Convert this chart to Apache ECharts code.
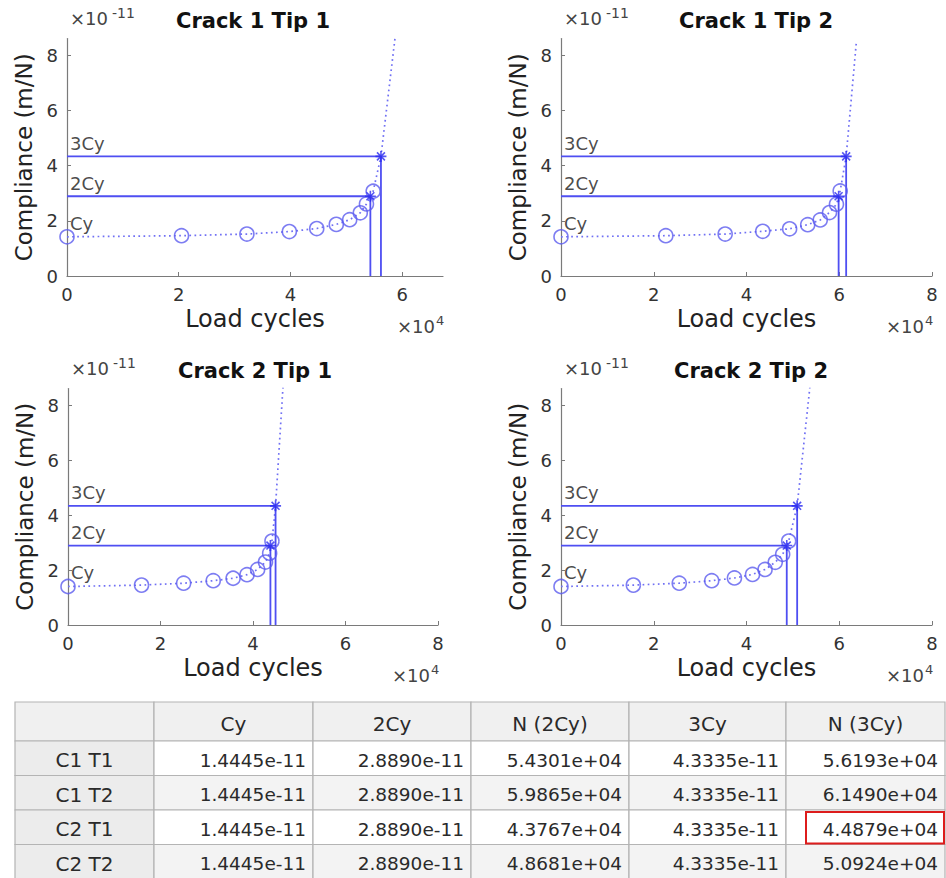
<!DOCTYPE html>
<html>
<head>
<meta charset="utf-8">
<script src="https://cdn.jsdelivr.net/npm/echarts@6/dist/echarts.min.js"></script>
<style>
html,body{margin:0;padding:0;background:#fff;}
#chart{width:946px;height:878px;}
</style>
</head>
<body>
<div id="chart"></div>
<script>
// ---------------- DATA ----------------
const plotTitles = ['Crack 1 Tip 1', 'Crack 1 Tip 2', 'Crack 2 Tip 1', 'Crack 2 Tip 2'];
const rowLabels = ['C1 T1', 'C1 T2', 'C2 T1', 'C2 T2'];
const tableHeaders = ['', 'Cy', '2Cy', 'N (2Cy)', '3Cy', 'N (3Cy)'];
const thresholdLabels = ['Cy', '2Cy', '3Cy'];

// table values (SI units)
const Cy  = [1.4445e-11, 1.4445e-11, 1.4445e-11, 1.4445e-11];
const C2y = [2.8890e-11, 2.8890e-11, 2.8890e-11, 2.8890e-11];
const N2  = [5.4301e+04, 5.9865e+04, 4.3767e+04, 4.8681e+04];
const C3y = [4.3335e-11, 4.3335e-11, 4.3335e-11, 4.3335e-11];
const N3  = [5.6193e+04, 6.1490e+04, 4.4879e+04, 5.0924e+04];

// measured points, in axis units (x10^4 cycles, x10^-11 m/N)
const c1t1N = [0, 2.05, 3.22, 3.98, 4.47, 4.82, 5.06, 5.25, 5.36, 5.48];
const c1t1C = [1.42, 1.46, 1.52, 1.61, 1.72, 1.87, 2.04, 2.29, 2.61, 3.07];
const c1t2N = [0, 2.26, 3.54, 4.35, 4.93, 5.32, 5.59, 5.79, 5.94, 6.02];
const c1t2C = [1.42, 1.46, 1.52, 1.62, 1.71, 1.86, 2.03, 2.30, 2.60, 3.08];
const c2t1N = [0, 1.59, 2.50, 3.14, 3.57, 3.87, 4.10, 4.27, 4.36, 4.41];
const c2t1C = [1.40, 1.45, 1.52, 1.61, 1.70, 1.83, 2.02, 2.29, 2.61, 3.05];
const c2t2N = [0, 1.56, 2.55, 3.25, 3.74, 4.13, 4.40, 4.62, 4.78, 4.91];
const c2t2C = [1.40, 1.45, 1.52, 1.61, 1.71, 1.84, 2.02, 2.28, 2.57, 3.05];
// end of the dotted trend curve (top of each panel)
const trendEndN = [5.87, 6.37, 4.65, 5.37];
const trendEndC = [8.6, 8.5, 8.7, 8.7];

// axes
const xMaxes = [6.73, 8, 8, 8];
const yMax = 8.6;
const xTicks = [0, 2, 4, 6, 8];
const yTicks = [0, 2, 4, 6, 8];
const xUnit = 1e4, yUnit = 1e-11;

// ---------------- LAYOUT ----------------
const FONT = 'DejaVu Sans';
const BLUE = '#4f4ff2';
const grids = [
  {left: 67,  top: 38.6,  width: 376, height: 237.4},
  {left: 561, top: 38.6,  width: 371, height: 237.4},
  {left: 68,  top: 388.5, width: 370, height: 236.5},
  {left: 561, top: 388.5, width: 371, height: 236.5}
];
const titlePos = [[253, 21], [756, 21], [255, 371], [751, 371]];

const pointsN = [c1t1N, c1t2N, c2t1N, c2t2N];
const pointsC = [c1t1C, c1t2C, c2t1C, c2t2C];

const xAxes = [], yAxes = [], series = [], graphics = [];

const starPath = 'path://M0,-5L0,5M-5,0L5,0M-3.6,-3.6L3.6,3.6M-3.6,3.6L3.6,-3.6';

for (let i = 0; i < 4; i++) {
  const xMax = xMaxes[i];
  const xt = xTicks.filter(v => v <= xMax);
  xAxes.push({
    gridIndex: i, type: 'value', min: 0, max: xMax,
    axisLine: {show: true, lineStyle: {color: '#7a7a7a', width: 1.2}},
    axisTick: {show: true, inside: true, length: 4, customValues: xt, lineStyle: {color: '#7a7a7a'}},
    axisLabel: {customValues: xt, color: '#333', fontSize: 18, fontFamily: FONT, margin: 9},
    splitLine: {show: false},
    name: 'Load cycles', nameLocation: 'middle', nameGap: 31,
    nameTextStyle: {fontSize: 24, color: '#222', fontFamily: FONT}
  });
  yAxes.push({
    gridIndex: i, type: 'value', min: 0, max: yMax,
    axisLine: {show: true, lineStyle: {color: '#7a7a7a', width: 1.2}},
    axisTick: {show: true, inside: true, length: 4, customValues: yTicks, lineStyle: {color: '#7a7a7a'}},
    axisLabel: {customValues: yTicks, color: '#333', fontSize: 18, fontFamily: FONT, margin: 9},
    splitLine: {show: false},
    name: 'Compliance (m/N)', nameLocation: 'middle', nameGap: 32,
    nameTextStyle: {fontSize: 23, color: '#222', fontFamily: FONT}
  });

  const n2 = N2[i] / xUnit, n3 = N3[i] / xUnit;
  const c1 = Cy[i] / yUnit, c2 = C2y[i] / yUnit, c3 = C3y[i] / yUnit;
  const pts = pointsN[i].map((n, k) => [n, pointsC[i][k]]);

  // dotted trend
  series.push({
    type: 'line', xAxisIndex: i, yAxisIndex: i, silent: true,
    data: pts.concat([[n3, c3], [trendEndN[i], trendEndC[i]]]),
    showSymbol: false, clip: true, z: 1,
    lineStyle: {color: '#7070f4', width: 1.7, type: [1.7, 3.4]}
  });
  // measured circles
  series.push({
    type: 'scatter', xAxisIndex: i, yAxisIndex: i, silent: true,
    data: pts, symbol: 'circle', symbolSize: 14, z: 3,
    itemStyle: {color: 'rgba(0,0,0,0)', borderColor: '#5c5cef', borderWidth: 1.6}
  });
  // threshold lines
  series.push({
    type: 'line', xAxisIndex: i, yAxisIndex: i, silent: true,
    data: [[0, c2], [n2, c2], [n2, 0]], showSymbol: false, z: 2,
    lineStyle: {color: BLUE, width: 1.8}
  });
  series.push({
    type: 'line', xAxisIndex: i, yAxisIndex: i, silent: true,
    data: [[0, c3], [n3, c3], [n3, 0]], showSymbol: false, z: 2,
    lineStyle: {color: BLUE, width: 1.8}
  });
  // star markers
  series.push({
    type: 'scatter', xAxisIndex: i, yAxisIndex: i, silent: true,
    data: [[n2, c2], [n3, c3]], symbol: starPath, symbolSize: 11, z: 4,
    itemStyle: {color: 'rgba(0,0,0,0)', borderColor: '#2a2af0', borderWidth: 1.6}
  });
  // threshold text labels
  series.push({
    type: 'scatter', xAxisIndex: i, yAxisIndex: i, silent: true,
    data: [c1, c2, c3].map((v, k) => ({value: [0, v], name: thresholdLabels[k]})),
    symbolSize: 0.1, z: 5,
    itemStyle: {color: 'rgba(0,0,0,0)'},
    label: {show: true, position: 'right', distance: 3, offset: [0, -13],
            formatter: p => p.name, fontSize: 18, color: '#1a1a1a', fontFamily: FONT}
  });

  // titles and multipliers
  const g = grids[i];
  graphics.push({
    type: 'text', x: titlePos[i][0], y: titlePos[i][1], silent: true,
    style: {text: plotTitles[i], font: 'bold 21px "DejaVu Sans"', fill: '#111', align: 'center', verticalAlign: 'middle'}
  });
  graphics.push({
    type: 'text', x: g.left + 3, y: g.top - 20, silent: true,
    style: {text: '×10', font: '18px "DejaVu Sans"', fill: '#444', align: 'left', verticalAlign: 'middle'}
  });
  graphics.push({
    type: 'text', x: g.left + 45, y: g.top - 26, silent: true,
    style: {text: '-11', font: '14px "DejaVu Sans"', fill: '#444', align: 'left', verticalAlign: 'middle'}
  });
  const by = g.top + g.height;
  graphics.push({
    type: 'text', x: g.left + g.width - 8, y: by + 50, silent: true,
    style: {text: '×10', font: '18px "DejaVu Sans"', fill: '#444', align: 'right', verticalAlign: 'middle'}
  });
  graphics.push({
    type: 'text', x: g.left + g.width - 7, y: by + 44, silent: true,
    style: {text: '4', font: '13px "DejaVu Sans"', fill: '#444', align: 'left', verticalAlign: 'middle'}
  });
}

// ---------------- TABLE ----------------
function fmt(v) {
  const s = v.toExponential(4);
  return s.replace(/e([+-])(\d)$/, 'e$10$2');
}
const colEdges = [15, 154, 313, 471, 629, 786, 945];
const rowEdges = [702, 741, 775.5, 810, 844.5, 879];
const tableCols = [Cy, C2y, N2, C3y, N3];
const highlight = {row: 2, col: 5};

for (let r = 0; r < rowEdges.length - 1; r++) {
  for (let c = 0; c < colEdges.length - 1; c++) {
    const x0 = colEdges[c], x1 = colEdges[c + 1], y0 = rowEdges[r], y1 = rowEdges[r + 1];
    let fill;
    if (r === 0) fill = '#f0f0f0';
    else if (c === 0) fill = '#ececec';
    else fill = (r % 2 === 0) ? '#f3f3f3' : '#ffffff';
    graphics.push({
      type: 'rect', silent: true, z: 1,
      shape: {x: x0, y: y0, width: x1 - x0, height: y1 - y0},
      style: {fill: fill, stroke: '#b4b4b4', lineWidth: 1.2}
    });
    let text, align, tx;
    if (r === 0) {
      text = tableHeaders[c]; align = 'center'; tx = (x0 + x1) / 2;
    } else if (c === 0) {
      text = rowLabels[r - 1]; align = 'center'; tx = (x0 + x1) / 2;
    } else {
      text = fmt(tableCols[c - 1][r - 1]); align = 'right'; tx = x1 - 7;
    }
    if (text) {
      graphics.push({
        type: 'text', silent: true, z: 3,
        x: tx, y: (y0 + y1) / 2 + 2,
        style: {text: text, font: (r === 0 || c === 0) ? '20px "DejaVu Sans"' : '18.5px "DejaVu Sans"',
                fill: '#2a2a2a', align: align, verticalAlign: 'middle'}
      });
    }
  }
}
// red highlight box
{
  const x1 = colEdges[highlight.col + 1];
  const y0 = rowEdges[highlight.row + 1], y1 = rowEdges[highlight.row + 2];
  graphics.push({
    type: 'rect', silent: true, z: 4,
    shape: {x: 806, y: y0 + 2, width: x1 - 1 - 806, height: y1 - y0 - 3},
    style: {fill: 'none', stroke: '#dd1c1c', lineWidth: 2}
  });
}

const chart = echarts.init(document.getElementById('chart'), null, {renderer: 'svg'});
chart.setOption({
  animation: false,
  backgroundColor: '#ffffff',
  textStyle: {fontFamily: FONT},
  grid: grids.map(g => Object.assign({containLabel: false}, g)),
  xAxis: xAxes,
  yAxis: yAxes,
  series: series,
  graphic: graphics
});
</script>
</body>
</html>
